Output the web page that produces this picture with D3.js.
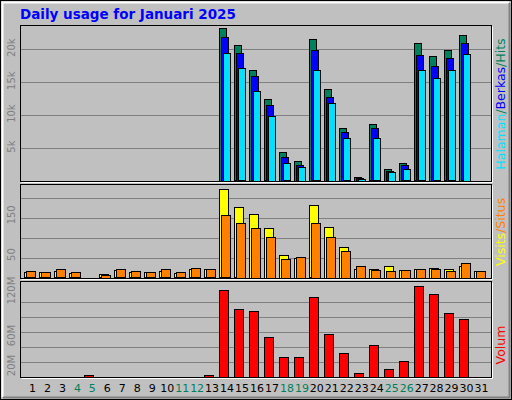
<!DOCTYPE html>
<html><head><meta charset="utf-8">
<script src="https://cdn.jsdelivr.net/npm/d3@7/dist/d3.min.js"></script>
<style>body{margin:0;background:#fff}</style></head>
<body><svg id="c" width="512" height="400"></svg>
<script>
const days = d3.range(1,32);
const weekend = [4,5,11,12,18,19,25,26];
const hits  = [0.05,0.05,0.05,0.05,0.05,0.05,0.05,0.05,0.05,0.05,0.05,0.05,0.05,23.2,20.5,16.8,12.3,4.4,3.0,21.5,13.9,8.0,0.6,8.5,1.8,2.7,20.8,18.9,19.8,22.1,0.05];
const files = [0.04,0.04,0.04,0.04,0.04,0.04,0.04,0.04,0.04,0.04,0.04,0.04,0.04,21.8,19.4,15.8,11.5,3.6,2.4,19.8,12.7,7.4,0.4,7.9,1.4,2.3,19.1,17.4,18.6,20.8,0.04];
const pages = [0.03,0.03,0.03,0.03,0.03,0.03,0.03,0.03,0.03,0.03,0.03,0.03,0.03,19.4,17.0,13.6,9.8,2.6,2.1,16.7,11.8,6.4,0.3,6.4,1.3,1.7,16.7,15.5,16.7,19.2,0.03];
const visits = [13,13,16,11,1,8,18,13,13,16,11,21,21,222,177,160,125,57,50,182,127,77,22,22,30,20,22,25,22,30,17];
const sites  = [16,13,21,13,1,7,21,16,13,21,13,23,21,156,137,125,102,47,52,137,102,67,30,20,17,20,22,22,17,37,17];
const volume = [0.5,0.5,0.5,0.5,2,0.5,0.5,0.5,0.5,0.5,0.5,0.5,2,115.6,90.2,87.6,52.9,26.2,26.2,106.2,56.9,31.6,4.9,42.2,10.2,20.9,120.9,110.2,84.9,76.9,0.5];
const topTicks = [5,10,15,20], midTicks=[50,150], midGrid=[50,100,150,200], botTicks=[20,60,120], botGrid=[20,40,60,80,100];

const svg = d3.select('#c');
const W=512,H=400, L=20, R=491;
svg.append('rect').attr('x',0).attr('y',0).attr('width',W).attr('height',H).attr('fill','#c0c0c0');
svg.append('rect').attr('x',0.5).attr('y',0.5).attr('width',W-1).attr('height',H-1).attr('fill','none').attr('stroke','#000');
svg.append('path').attr('d','M2.5,397V2.5H509').attr('fill','none').attr('stroke','#fff').attr('stroke-width',2);
svg.append('path').attr('d','M3,397.5H509.5V3').attr('fill','none').attr('stroke','#808080').attr('stroke-width',2);
svg.append('text').attr('x',20).attr('y',19).text('Daily usage for Januari 2025')
  .attr('font-family','DejaVu Sans').attr('font-weight','bold').attr('font-size',13.5).attr('fill','#0000ff');

const x = d3.scaleBand().domain(days).range([L+5,R-2]).paddingInner(0);
const cx = d=>x(d)+x.bandwidth()/2;

function panel(y0,y1){
  svg.append('rect').attr('x',L+0.5).attr('y',y0+0.5).attr('width',R-L).attr('height',y1-y0).attr('fill','none').attr('stroke','#000');
  svg.append('path').attr('d',`M${L+1.5},${y1+1.5}H${R+1.5}V${y0+1.5}`).attr('fill','none').attr('stroke','#fff');
}
function grid(y,vals){
  vals.forEach(v=>svg.append('line').attr('x1',L+1).attr('x2',R).attr('y1',Math.round(y(v))+0.5).attr('y2',Math.round(y(v))+0.5).attr('stroke','#808080'));
}
function ylab(y,vals,fmt,dy){
  vals.forEach(v=>svg.append('text').attr('transform',`translate(15,${y(v)+dy}) rotate(-90)`).attr('text-anchor','middle')
    .attr('font-family','DejaVu Sans').attr('font-size',10).attr('fill','#808080').text(fmt(v)));
}
function bars(data,y,col,off,w){
  svg.append('g').selectAll('rect').data(data).join('rect')
    .attr('x',(d,i)=>Math.round(cx(days[i])+off)+0.5).attr('width',w)
    .attr('y',d=>Math.round(y(d))+0.5).attr('height',d=>Math.max(0,Math.round(y.range()[0]-y(d))))
    .attr('fill',col).attr('stroke','#000');
}
function rlab(y,parts){
  const t=svg.append('text').attr('transform',`translate(505,${y}) rotate(-90)`).attr('text-anchor','middle')
    .attr('font-family','DejaVu Sans').attr('font-size',12.5);
  parts.forEach(([s,c])=>t.append('tspan').attr('fill',c).text(s));
}

// top
panel(25,181);
const yT = d3.scaleLinear().domain([0,23.6]).range([180.5,25]);
grid(yT,topTicks);
ylab(yT,topTicks,v=>v+'k',-1);
bars(hits,yT,'#00805c',-8,7);
bars(files,yT,'#0000ff',-6,7);
bars(pages,yT,'#00e0ff',-4,7);
rlab(104,[['Halaman','#00e0ff'],['/','#00805c'],['Berkas','#0000ff'],['/','#00805c'],['Hits','#00805c']]);

// middle
panel(184,278);
const yM = d3.scaleLinear().domain([0,235]).range([277.5,184]);
grid(yM,midGrid);
ylab(yM,midTicks,v=>v,-3);
bars(visits,yM,'#ffff00',-8,9);
bars(sites,yM,'#ff8000',-6,9);
rlab(232,[['Visits','#ffff00'],['/','#ff8000'],['Situs','#ff8000']]);

// bottom
panel(281,377);
const yB = d3.scaleLinear().domain([0,126]).range([376.5,282]);
grid(yB,botGrid);
ylab(yB,botTicks,v=>v+'M',4);
bars(volume,yB,'#ff0000',-8,9);
rlab(345,[['Volum','#ff0000']]);

// day labels
svg.append('g').selectAll('text').data(days).join('text')
  .attr('x',d=>cx(d)).attr('y',392).attr('text-anchor','middle')
  .attr('font-family','DejaVu Sans').attr('font-size',11)
  .attr('fill',d=>weekend.includes(d)?'#00805c':'#000').text(d=>d);
</script></body></html>
